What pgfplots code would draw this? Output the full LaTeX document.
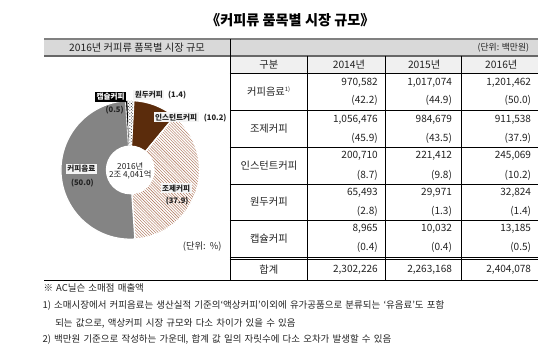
\documentclass[border=0pt]{standalone}
\usepackage{pgfplots}
\pgfplotsset{compat=1.18}
\usepackage{pgfplotstable}
\usetikzlibrary{patterns}
\usepackage{fontspec}
\setmainfont{Noto Sans CJK KR}
\newfontfamily\notefont[WordSpace=1.5]{Noto Sans CJK KR}
\definecolor{brownD}{HTML}{5B2C0C}
\definecolor{hatchc}{HTML}{A86A4C}
\definecolor{pieGray}{HTML}{848484}
\definecolor{band}{HTML}{D9D9D9}
\definecolor{hdr}{HTML}{F0F0F0}
\definecolor{lblbg}{HTML}{F4F4F4}
\definecolor{txt}{HTML}{222222}
\definecolor{rule}{HTML}{808080}

% 2016 share (%) by item, clockwise from top
\pgfplotstableread{
part value
instant 10.2
josae 37.9
drink 50.0
capsule 0.5
wondu 1.4
}\piedata

\newcommand\fs[1]{\fontsize{#1bp}{#1bp}\selectfont}
\def\pcx{120}\def\pcy{174}\def\pr{71bp}
\newcommand\sector[3]{\fill[#3] (axis cs:\pcx,\pcy) -- ++({90-(#1)}:\pr) arc[start angle={90-(#1)}, end angle={90-(#2)}, radius=\pr] -- cycle;}

\begin{document}
\def\aA{3}
\pgfplotstablegetelem{0}{value}\of\piedata \pgfmathsetmacro\aB{\aA+3.6*\pgfplotsretval}
\pgfplotstablegetelem{1}{value}\of\piedata \pgfmathsetmacro\aC{\aB+3.6*\pgfplotsretval}
\pgfplotstablegetelem{2}{value}\of\piedata \pgfmathsetmacro\aD{\aC+3.6*\pgfplotsretval}
\pgfplotstablegetelem{3}{value}\of\piedata \pgfmathsetmacro\aE{\aD+3.6*\pgfplotsretval}
\pgfplotstablegetelem{4}{value}\of\piedata \pgfmathsetmacro\aF{\aE+3.6*\pgfplotsretval}
\begin{tikzpicture}
\begin{axis}[hide axis, scale only axis, width=554bp, height=363bp,
  xmin=0, xmax=554, ymin=0, ymax=363, y dir=reverse, clip=false]
\path (axis cs:0,0) rectangle (axis cs:554,363);
% title
\node[font=\bfseries\fs{14.5}, text=black] at (axis cs:284,21) {《커피류 품목별 시장 규모》};
% header band
\fill[band] (axis cs:32,40) rectangle (axis cs:538,57);
\fill[hdr] (axis cs:222,57) rectangle (axis cs:538,75);
\draw[rule, line width=1.8bp] (axis cs:32,40) -- (axis cs:538,40);
\draw[rule!80!black, line width=1.8bp] (axis cs:32,57) -- (axis cs:538,57);
\draw[black, line width=0.6bp] (axis cs:222,40) -- (axis cs:222,287);
\node[font=\fs{10.5}, text=txt] at (axis cs:127,49) {2016년 커피류 품목별 시장 규모};
\node[font=\fs{9}, text=txt, anchor=east] at (axis cs:532,49) {(단위: 백만원)};
% table grid
\pgfplotsinvokeforeach{75,112.5,151,189,226,263,265.5}{\draw[black, line width=0.5bp] (axis cs:222,#1) -- (axis cs:538,#1);}
\pgfplotsinvokeforeach{301,381,459}{\draw[black, line width=0.5bp] (axis cs:#1,57) -- (axis cs:#1,287);}
\draw[black, line width=0.7bp] (axis cs:32,287) -- (axis cs:538,287);
% table header
\node[font=\fs{10.5}, text=txt] at (axis cs:262,66) {구분};
\node[font=\fs{10.5}, text=txt] at (axis cs:344,66) {2014년};
\node[font=\fs{10.5}, text=txt] at (axis cs:421,66) {2015년};
\node[font=\fs{10.5}, text=txt] at (axis cs:500,66) {2016년};
% row labels
\node[font=\fs{10.5}, text=txt] at (axis cs:262,94) {커피음료\textsuperscript{\fs{6}1)}};
\node[font=\fs{10.5}, text=txt] at (axis cs:262,132) {조제커피};
\node[font=\fs{10.5}, text=txt] at (axis cs:262,170) {인스턴트커피};
\node[font=\fs{10.5}, text=txt] at (axis cs:262,207) {원두커피};
\node[font=\fs{10.5}, text=txt] at (axis cs:262,244) {캡슐커피};
\node[font=\fs{10.5}, text=txt] at (axis cs:262,276) {합계};
% values
\begin{scope}[every node/.style={font=\fs{10.3}, text=txt, anchor=east}]
\node at (axis cs:377,85) {970,582};   \node at (axis cs:453,85) {1,017,074}; \node at (axis cs:534,85) {1,201,462};
\node at (axis cs:377,103) {(42.2)};   \node at (axis cs:453,103) {(44.9)};   \node at (axis cs:534,103) {(50.0)};
\node at (axis cs:377,123) {1,056,476};\node at (axis cs:453,123) {984,679};  \node at (axis cs:534,123) {911,538};
\node at (axis cs:377,141.5) {(45.9)}; \node at (axis cs:453,141.5) {(43.5)}; \node at (axis cs:534,141.5) {(37.9)};
\node at (axis cs:377,160) {200,710};  \node at (axis cs:453,160) {221,412};  \node at (axis cs:534,160) {245,069};
\node at (axis cs:377,179.5) {(8.7)};  \node at (axis cs:453,179.5) {(9.8)};  \node at (axis cs:534,179.5) {(10.2)};
\node at (axis cs:377,197) {65,493};   \node at (axis cs:453,197) {29,971};   \node at (axis cs:534,197) {32,824};
\node at (axis cs:377,216.5) {(2.8)};  \node at (axis cs:453,216.5) {(1.3)};  \node at (axis cs:534,216.5) {(1.4)};
\node at (axis cs:377,234) {8,965};    \node at (axis cs:453,234) {10,032};   \node at (axis cs:534,234) {13,185};
\node at (axis cs:377,253) {(0.4)};    \node at (axis cs:453,253) {(0.4)};    \node at (axis cs:534,253) {(0.5)};
\node at (axis cs:377,276) {2,302,226};\node at (axis cs:453,276) {2,263,168};\node at (axis cs:534,276) {2,404,078};
\end{scope}
% donut
\sector{\aA}{\aB}{brownD, draw=white, line width=1.3bp}
\sector{\aB}{\aC}{preaction={fill=white}, pattern=north west lines, pattern color=hatchc, draw=white, line width=1.3bp}
\sector{\aC}{\aD}{pieGray, draw=white, line width=1.3bp}
\sector{\aD}{\aE}{black, draw=white, line width=0.4bp}
\sector{\aE}{\aF}{preaction={fill=white}, pattern=crosshatch dots, pattern color=black, draw=white, line width=0.4bp}
\fill[white] (axis cs:\pcx,\pcy) circle[radius=25bp];
\node[font=\fs{8.5}, text=txt, align=center] at (axis cs:120,175) {2016년\\[-1bp]2조 4,041억};
% pie labels
\node[fill=black, text=white, font=\bfseries\fs{7.8}, inner sep=1.5bp] at (axis cs:100,99) {캡슐커피};
\node[text=txt, font=\bfseries\fs{7.8}] at (axis cs:104,113) {(0.5)};
\node[fill=lblbg, text=txt, font=\bfseries\fs{7.8}, inner sep=1.5bp] at (axis cs:139,97) {원두커피};
\node[text=txt, font=\bfseries\fs{7.8}] at (axis cs:168,97) {(1.4)};
\node[fill=lblbg, text=txt, font=\bfseries\fs{7.8}, inner sep=1.5bp] at (axis cs:167,120) {인스턴트커피};
\node[text=txt, font=\bfseries\fs{7.8}] at (axis cs:207,121) {(10.2)};
\node[fill=lblbg, text=txt, font=\bfseries\fs{7.8}, inner sep=1.5bp] at (axis cs:70,173) {커피음료};
\node[text=txt, font=\bfseries\fs{7.8}] at (axis cs:71,187) {(50.0)};
\node[fill=lblbg, text=txt, font=\bfseries\fs{7.8}, inner sep=1.5bp] at (axis cs:167,193) {조제커피};
\node[text=txt, font=\bfseries\fs{7.8}] at (axis cs:168,206) {(37.9)};
\node[font=\fs{9.5}, text=txt, anchor=east] at (axis cs:217,253) {(단위:\ \ \%)};
% footnotes
\begin{scope}[every node/.style={font=\notefont\fs{9.7}, text=txt, anchor=west, inner sep=0pt}]
\node at (axis cs:31,295) {※ AC닐슨 소매점 매출액};
\node at (axis cs:30,313) {1) 소매시장에서 커피음료는 생산실적 기준의‘액상커피’이외에 유가공품으로 분류되는 ‘유음료’도 포함};
\node at (axis cs:43,331) {되는 값으로, 액상커피 시장 규모와 다소 차이가 있을 수 있음};
\node at (axis cs:30,348) {2) 백만원 기준으로 작성하는 가운데, 합계 값 일의 자릿수에 다소 오차가 발생할 수 있음};
\end{scope}
\end{axis}
\end{tikzpicture}
\end{document}
